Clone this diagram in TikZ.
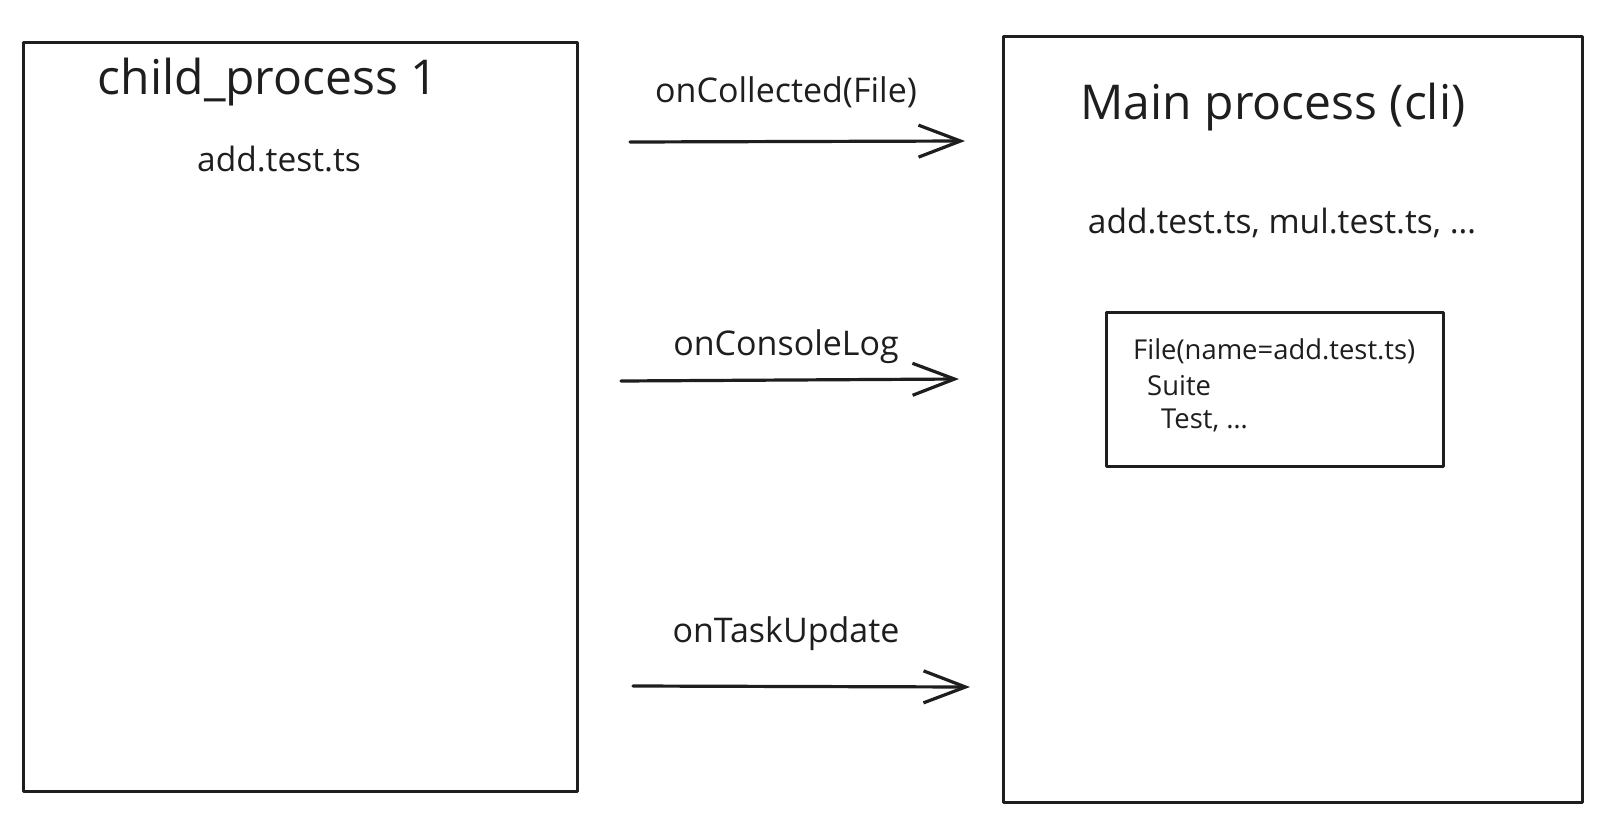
\documentclass[tikz,border=0pt]{standalone}
\usepackage{fontspec}
\setmainfont{Open Sans}
\usetikzlibrary{arrows.meta}
\definecolor{ink}{HTML}{1E1E1E}
\begin{document}
\begin{tikzpicture}[x=1pt,y=-1pt,
  box/.style={draw=ink, line width=3.2pt, line join=round, inner sep=0pt, anchor=north west},
  title/.style={text=ink, font=\fontsize{48}{56}\selectfont, inner sep=0pt},
  sub/.style={text=ink, font=\fontsize{33.5}{40}\selectfont, inner sep=0pt},
  lbl/.style={text=ink, font=\fontsize{34}{40}\selectfont, inner sep=0pt},
  inner/.style={text=ink, font=\fontsize{27.4}{34}\selectfont, inner sep=0pt, anchor=west},
  msg/.style={draw=ink, line width=3.2pt, line cap=round, -{Straight Barb[length=42pt,width=32pt,line width=3.2pt]}}]
\useasboundingbox (0,0) rectangle (1600,814);
\fill[white] (0,0) rectangle (1600,814);
% boxes
\node[box, minimum width=554pt, minimum height=749pt] (child) at (22,41) {};
\node[box, minimum width=579pt, minimum height=766pt] (main) at (1002,35) {};
\node[box, minimum width=337pt, minimum height=154pt] (tree) at (1105,311) {};
% texts
\node[title] (childT) at (268,82) {child\_process 1};
\node[sub] (childF) at (279,159) {add.test.ts};
\node[title] (mainT) at (1273,107) {Main process (cli)};
\node[sub] (mainF) at (1282,223) {add.test.ts, mul.test.ts, \dots};
\node[inner] (t1) at (1133,351) {File(name=add.test.ts)};
\node[inner] (t2) at (1147,386) {Suite};
\node[inner] (t3) at (1161,420) {Test, \dots};
% arrows
\coordinate (a1s) at (630,142); \coordinate (a1e) at (965,141);
\coordinate (a2s) at (621,381); \coordinate (a2e) at (959,379);
\coordinate (a3s) at (633,686); \coordinate (a3e) at (970,687);
\draw[msg] (a1s) -- (a1e);
\draw[msg] (a2s) -- (a2e);
\draw[msg] (a3s) -- (a3e);
\node[lbl] (l1) at (786,92) {onCollected(File)};
\node[lbl] (l2) at (786,347) {onConsoleLog};
\node[lbl] (l3) at (786,634) {onTaskUpdate};
\end{tikzpicture}
\end{document}
